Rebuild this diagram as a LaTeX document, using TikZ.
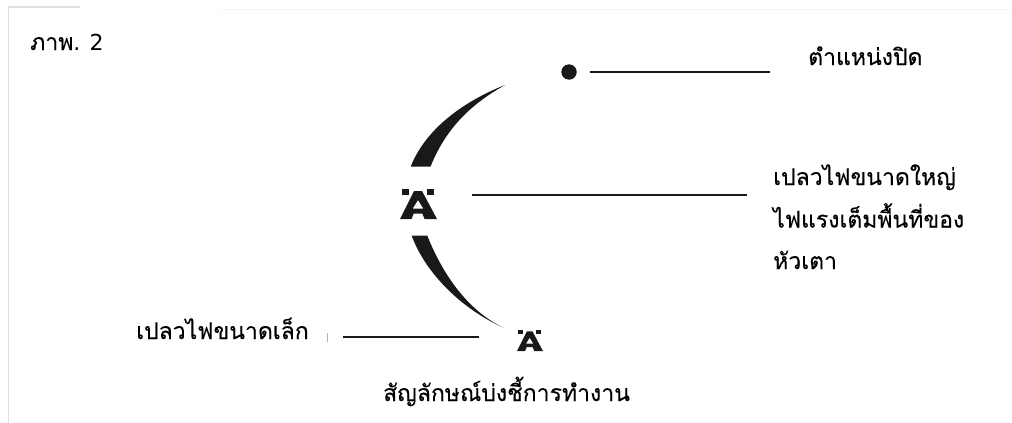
\documentclass[tikz,border=0pt]{standalone}
\usepackage{fontspec}
\setmainfont{Liberation Sans}
\newfontfamily\thaifont[Script=Thai,FakeBold=0.25]{Loma}
\newfontfamily\latinfont{DejaVu Sans}
\tikzset{
  thaitext/.style={inner sep=0pt,anchor=base west,font=\thaifont\fontsize{23}{23}\selectfont,text=black},
  leader/.style={draw=black!90,line width=2.8pt},
  arcshape/.style={fill=black!90,draw=none},
  lampicon/.pic={
    \fill[black!90] (-17,-15.5) rectangle (-10,-9);
    \fill[black!90] (8,-15.5) rectangle (15,-9);
    \fill[black!90,even odd rule]
      (-4.5,-13) -- (3.5,-13) -- (18.5,15) -- (6,15) -- (3.8,9.5) -- (-4.8,9.5) -- (-7,15) -- (-18.5,15) -- cycle
      (-0.5,-4) -- (-5.8,4.5) -- (4.8,4.5) -- cycle;
  },
}
\begin{document}
\begin{tikzpicture}[x=1pt,y=-1pt]
\useasboundingbox (0,0) rectangle (1012,423);
\fill[white] (0,0) rectangle (1012,423);
\draw[black!12,line width=1.2pt] (8.5,423) -- (8.5,7) -- (80,7);
\draw[black!4,line width=1pt] (220,9) -- (1012,9);
\draw[black!30,line width=.8pt] (327,333) -- (327,342);

\node[thaitext] (fig) at (30,50) {ภาพ{\latinfont\fontsize{22}{22}\selectfont . 2}};
\node[thaitext] (closed) at (808,65) {ตำแหน่งปิด};
\node[thaitext] (big1) at (773,185) {เปลวไฟขนาดใหญ่};
\node[thaitext] (big2) at (773,227.5) {ไฟแรงเต็มพื้นที่ของ};
\node[thaitext] (big3) at (773,269) {หัวเตา};
\node[thaitext] (small) at (136,339) {เปลวไฟขนาดเล็ก};
\node[thaitext] (caption) at (383,401) {สัญลักษณ์บ่งชี้การทำงาน};

\fill[black!90] (569,72) circle (7.7);
\coordinate (d1) at (590,72); \coordinate (d2) at (770,72);
\coordinate (m1) at (472,195); \coordinate (m2) at (747,195);
\coordinate (s1) at (343,337); \coordinate (s2) at (479,337);
\draw[leader] (d1) -- (d2);
\draw[leader] (m1) -- (m2);
\draw[leader] (s1) -- (s2);

\fill[arcshape] (410.7,166.7) .. controls (425,130) and (462,102) .. (505,85)
  .. controls (475,102) and (447,125) .. (430.5,166.7) -- cycle;
\fill[arcshape] (411.7,235.7) .. controls (425,272) and (460,308) .. (503,327.5)
  .. controls (475,314) and (447,285) .. (427.3,235.7) -- cycle;

\pic at (418.5,204) {lampicon};
\pic[scale=0.7] at (530,340.5) {lampicon};
\end{tikzpicture}
\end{document}
